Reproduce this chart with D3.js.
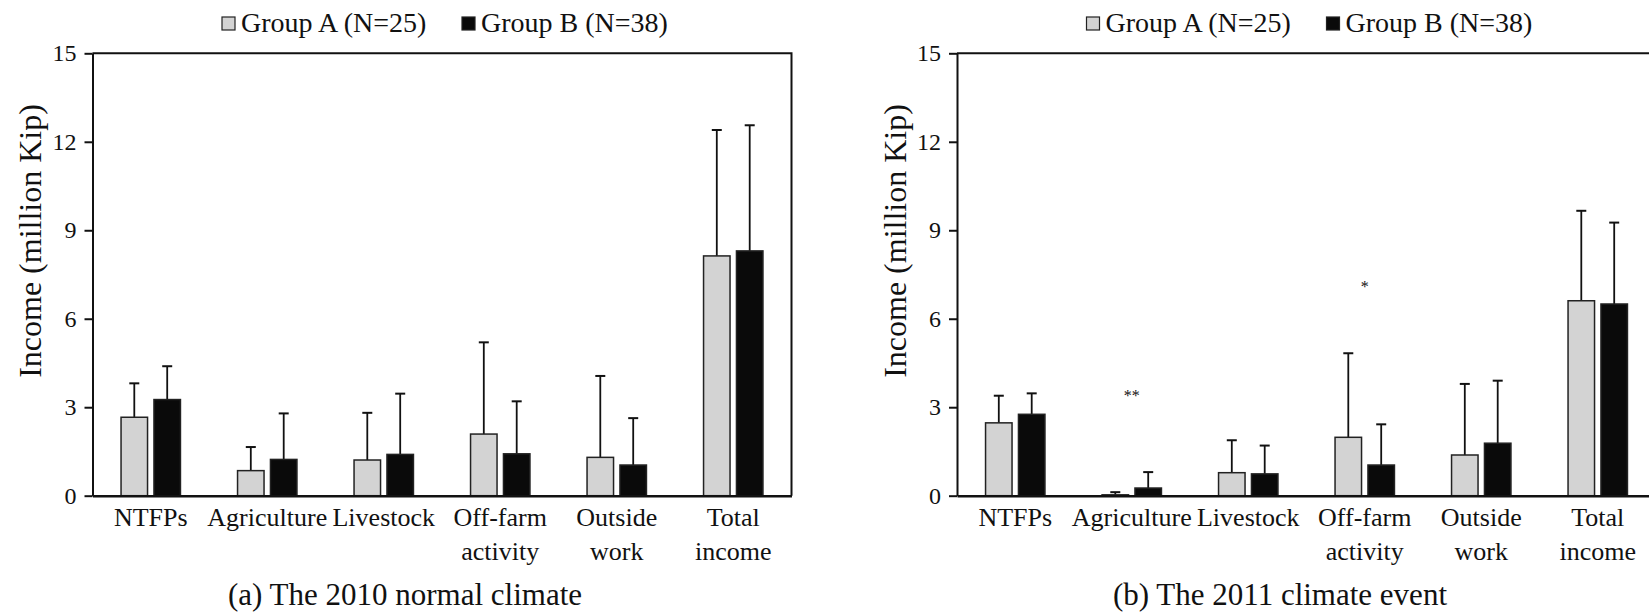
<!DOCTYPE html>
<html>
<head>
<meta charset="utf-8">
<script src="https://cdn.jsdelivr.net/npm/d3@7"></script>
<style>
  body { margin: 0; background: #fff; }
</style>
</head>
<body>
<div id="chart"></div>
<script>
// categories on the x axis (a space marks a line break in the label)
var categories = ["NTFPs", "Agriculture", "Livestock", "Off-farm activity", "Outside work", "Total income"];
var groupKeys = ["A", "B"];
var groupLabels = ["Group A (N=25)", "Group B (N=38)"];
var yTicks = [0, 3, 6, 9, 12, 15];

// (a) 2010 normal climate: mean and SD, million Kip
var meanA2010 = [2.66, 0.85, 1.21, 2.09, 1.30, 8.13];
var sdA2010   = [1.15, 0.80, 1.60, 3.11, 2.76, 4.27];
var meanB2010 = [3.26, 1.23, 1.40, 1.42, 1.04, 8.30];
var sdB2010   = [1.13, 1.56, 2.06, 1.78, 1.59, 4.26];

// (b) 2011 climate event
var meanA2011 = [2.47, 0.03, 0.78, 1.98, 1.38, 6.61];
var sdA2011   = [0.92, 0.09, 1.10, 2.85, 2.41, 3.05];
var meanB2011 = [2.76, 0.26, 0.74, 1.04, 1.78, 6.50];
var sdB2011   = [0.71, 0.54, 0.96, 1.38, 2.12, 2.76];

// significance markers, panel (b) only
var sigCategories = ["Agriculture", "Off-farm activity"];
var sigLabels = ["**", "*"];
var sigLevels = [3.2, 6.9];

var width = 1649;
var height = 614;
var font = "'Liberation Serif', 'Times New Roman', serif";
var fills = {A: "#d3d3d3", B: "#0a0a0a"};

var panels = [
  {left: 92.5, captionX: 405, caption: "(a) The 2010 normal climate",
   meanA: meanA2010, sdA: sdA2010, meanB: meanB2010, sdB: sdB2010, sig: false},
  {left: 957, captionX: 1280, caption: "(b) The 2011 climate event",
   meanA: meanA2011, sdA: sdA2011, meanB: meanB2011, sdB: sdB2011, sig: true}
];

var svg = d3.select("#chart")
  .append("svg")
    .attr("width", width)
    .attr("height", height)
    .attr("font-family", font);

var plotW = 699;

// shared scales
var y = d3.scaleLinear().domain([0, 15]).range([495.7, 53.3]);
var x0 = d3.scaleBand().domain(categories).range([0, plotW]);
var bw = x0.bandwidth();
var x1 = d3.scaleBand()
  .domain(groupKeys)
  .range([bw / 2 - 29.7, bw / 2 + 29.7])
  .paddingInner(0.195);

panels.forEach(function(p) {
  var g = svg.append("g").attr("transform", "translate(" + p.left + ",0)");

  var rows = [];
  categories.forEach(function(c, i) {
    rows.push({cat: c, key: "A", mean: p.meanA[i], sd: p.sdA[i]});
    rows.push({cat: c, key: "B", mean: p.meanB[i], sd: p.sdB[i]});
  });

  function cx(d) { return x0(d.cat) + x1(d.key) + x1.bandwidth() / 2; }

  // frame: top and right lines
  g.append("path")
    .attr("d", "M0," + y(15) + "H" + plotW + "V" + y(0))
    .attr("fill", "none")
    .attr("stroke", "#111")
    .attr("stroke-width", 2);

  // error bars
  var err = g.selectAll(".err").data(rows).enter().append("g").attr("class", "err");
  err.append("line")
    .attr("x1", cx).attr("x2", cx)
    .attr("y1", function(d) { return y(d.mean); })
    .attr("y2", function(d) { return y(d.mean + d.sd); })
    .attr("stroke", "#111").attr("stroke-width", 1.8);
  err.append("line")
    .attr("x1", function(d) { return cx(d) - 5; })
    .attr("x2", function(d) { return cx(d) + 5; })
    .attr("y1", function(d) { return y(d.mean + d.sd); })
    .attr("y2", function(d) { return y(d.mean + d.sd); })
    .attr("stroke", "#111").attr("stroke-width", 2);

  // bars
  g.selectAll(".bar").data(rows).enter().append("rect")
    .attr("class", "bar")
    .attr("x", function(d) { return x0(d.cat) + x1(d.key); })
    .attr("width", x1.bandwidth())
    .attr("y", function(d) { return y(d.mean); })
    .attr("height", function(d) { return y(0) - y(d.mean); })
    .attr("fill", function(d) { return fills[d.key]; })
    .attr("stroke", "#222")
    .attr("stroke-width", 1.5);

  // y axis
  var ya = g.append("g")
    .call(d3.axisLeft(y).tickValues(yTicks).tickSize(8).tickPadding(8).tickSizeOuter(0));
  ya.attr("font-family", font).attr("font-size", 24);
  ya.select(".domain").attr("stroke", "#111").attr("stroke-width", 2);
  ya.selectAll(".tick line").attr("stroke", "#111").attr("stroke-width", 2);
  ya.selectAll(".tick text").attr("fill", "#111");

  // x axis with wrapped labels
  var xa = g.append("g")
    .attr("transform", "translate(0," + y(0) + ")")
    .call(d3.axisBottom(x0).tickSize(0).tickSizeOuter(0));
  xa.attr("font-family", font).attr("font-size", 26);
  xa.select(".domain").attr("stroke", "#111").attr("stroke-width", 2.5);
  xa.selectAll(".tick text").each(function(d) {
    var t = d3.select(this).text("").attr("y", 0).attr("dy", null).attr("fill", "#111");
    d.split(" ").forEach(function(word, k) {
      t.append("tspan").attr("x", 0).attr("y", 30.5 + k * 34).text(word);
    });
  });

  // y axis title
  g.append("text")
    .attr("transform", "translate(-51.5," + 241 + ") rotate(-90)")
    .attr("text-anchor", "middle")
    .attr("font-size", 32)
    .attr("fill", "#111")
    .text("Income (million Kip)");

  // legend, centred over the plot
  var mid = plotW / 2;
  var legendOffsets = [-220, 20];
  var leg = g.selectAll(".leg").data(groupKeys).enter().append("g")
    .attr("class", "leg")
    .attr("transform", function(d, i) { return "translate(" + (mid + legendOffsets[i]) + ",0)"; });
  leg.append("rect")
    .attr("x", 0).attr("y", 17).attr("width", 13).attr("height", 13)
    .attr("fill", function(d) { return fills[d]; })
    .attr("stroke", "#222").attr("stroke-width", 1.2);
  leg.append("text")
    .attr("x", 19).attr("y", 32)
    .attr("font-size", 28)
    .attr("fill", "#111")
    .text(function(d, i) { return groupLabels[i]; });

  // significance stars
  if (p.sig) {
    g.selectAll(".sig").data(sigCategories).enter().append("text")
      .attr("class", "sig")
      .attr("x", function(d) { return x0(d) + bw / 2; })
      .attr("y", function(d, i) { return y(sigLevels[i]); })
      .attr("text-anchor", "middle")
      .attr("font-size", 16)
      .attr("fill", "#111")
      .text(function(d, i) { return sigLabels[i]; });
  }

  // caption
  svg.append("text")
    .attr("x", p.captionX)
    .attr("y", 605)
    .attr("text-anchor", "middle")
    .attr("font-size", 31)
    .attr("fill", "#111")
    .text(p.caption);
});
</script>
</body>
</html>
